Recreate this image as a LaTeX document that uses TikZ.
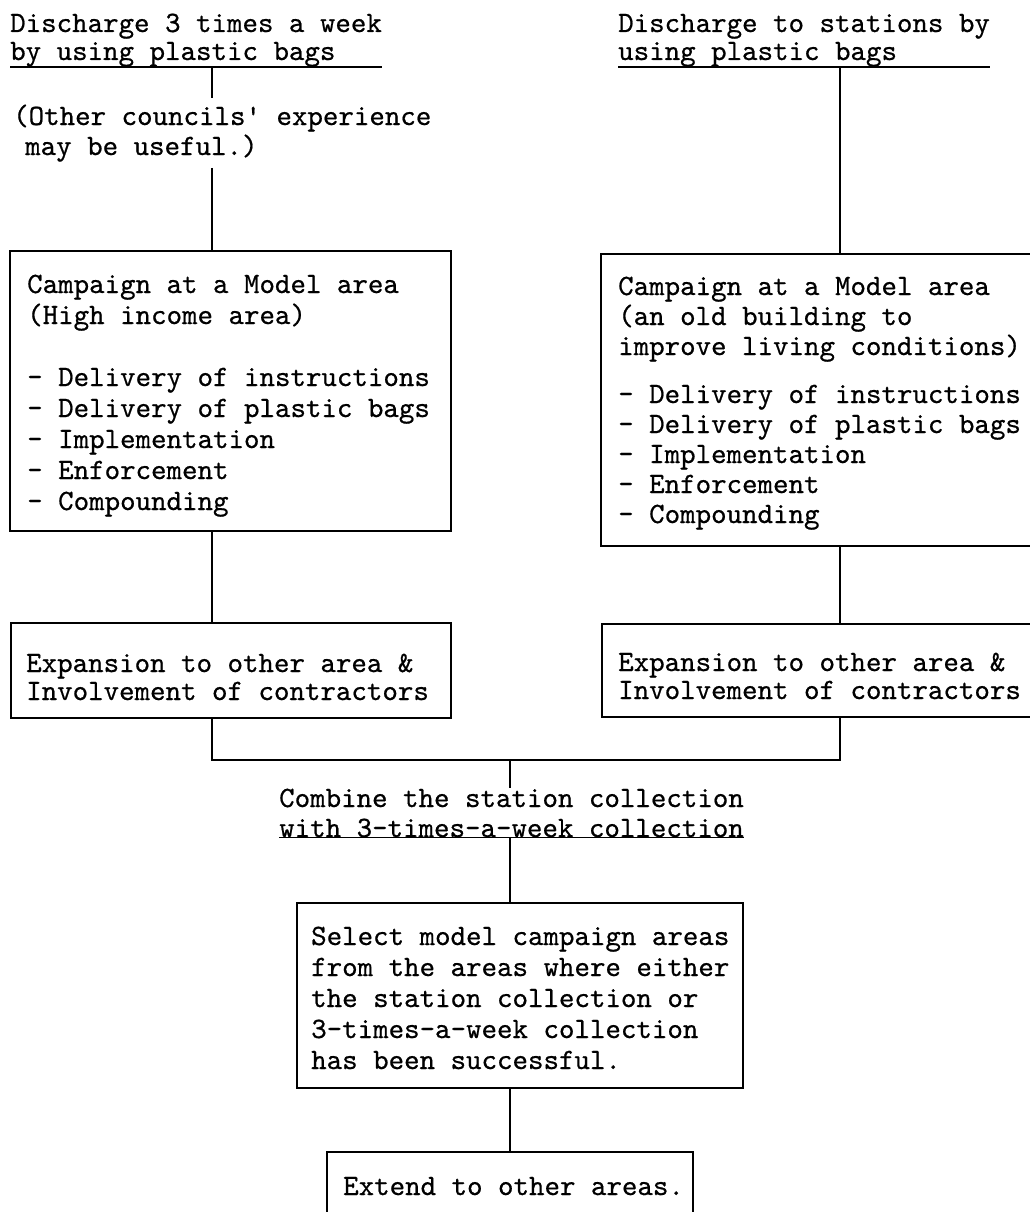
\documentclass[tikz,border=0pt]{standalone}
\usepackage{fontspec}
\newfontfamily\tw[FakeBold=0.6]{lmmono10-regular.otf}
\begin{document}
\begin{tikzpicture}[x=1pt,y=-1pt,
  txt/.style={inner sep=0pt, anchor=base west, align=left, font=\fontsize{29.5}{31}\tw},
  box/.style={draw, line width=1.7pt, inner sep=0pt, anchor=north west},
  conn/.style={line width=1.9pt},
  uline/.style={line width=1.5pt}]
\useasboundingbox[fill=white] (0,0) rectangle (1030,1212);
% column coordinates
\coordinate (colL) at (212,0);
\coordinate (colR) at (840,0);
\coordinate (colM) at (510,0);
\coordinate (jn) at (510,760);
% headings (anchored at the baseline of their last line)
\node[txt] (h1) at (10,60) {Discharge 3 times a week\\[-3pt]by using plastic bags};
\node[txt, inner ysep=6pt] (note) at (13,155) {(Other councils' experience\\[-1pt]\hspace*{12pt}may be useful.)};
\node[txt] (h2) at (618,60) {Discharge to stations by\\[-3pt]using plastic bags};
% campaign boxes
\node[box, minimum width=441pt, minimum height=280pt] (b1) at (9,250) {};
\node[txt] (b1t) at (27,510) {Campaign at a Model area\\(High income area)\\[31pt]- Delivery of instructions\\- Delivery of plastic bags\\- Implementation\\- Enforcement\\- Compounding};
\node[box, minimum width=445pt, minimum height=292pt] (b2) at (600,253) {};
\node[txt, font=\fontsize{29.5}{30}\tw] (b2t) at (618,523) {Campaign at a Model area\\(an old building to\\improve living conditions)\\[18pt]- Delivery of instructions\\- Delivery of plastic bags\\- Implementation\\- Enforcement\\- Compounding};
% expansion boxes
\node[box, minimum width=440pt, minimum height=95pt] (e1) at (10,622) {};
\node[txt] (e1t) at (26,700) {Expansion to other area \&\\[-3pt]Involvement of contractors};
\node[box, minimum width=444pt, minimum height=93pt] (e2) at (601,623) {};
\node[txt] (e2t) at (618,699) {Expansion to other area \&\\[-3pt]Involvement of contractors};
% combine
\node[txt] (comb) at (279,837) {Combine the station collection\\[-1pt]with 3-times-a-week collection};
% select
\node[box, minimum width=446pt, minimum height=185pt] (sel) at (296,902) {};
\node[txt] (selt) at (311,1069) {Select model campaign areas\\from the areas where either\\the station collection or\\3-times-a-week collection\\has been successful.};
% extend
\node[box, minimum width=366pt, minimum height=90pt] (ext) at (326,1151) {};
\node[txt] (extt) at (343,1195) {Extend to other areas.};
% underlines
\draw[uline] (h1.south west) -- (h1.south east);
\draw[uline] (h2.south west) -- (h2.south east);
\draw[uline] (comb.south west) -- (comb.south east);
% connectors
\draw[conn] (h1.south -| colL) -- (note.north -| colL);
\draw[conn] (note.south -| colL) -- (b1.north -| colL);
\draw[conn] (b1.south -| colL) -- (e1.north -| colL);
\draw[conn] (h2.south -| colR) -- (b2.north -| colR);
\draw[conn] (b2.south -| colR) -- (e2.north -| colR);
\draw[conn] (e1.south -| colL) -- (jn -| colL) -- (jn -| colR) -- (e2.south -| colR);
\draw[conn] (jn) -- (comb.north -| jn);
\draw[conn] (comb.south -| colM) -- (sel.north -| colM);
\draw[conn] (sel.south -| colM) -- (ext.north -| colM);
\end{tikzpicture}
\end{document}
